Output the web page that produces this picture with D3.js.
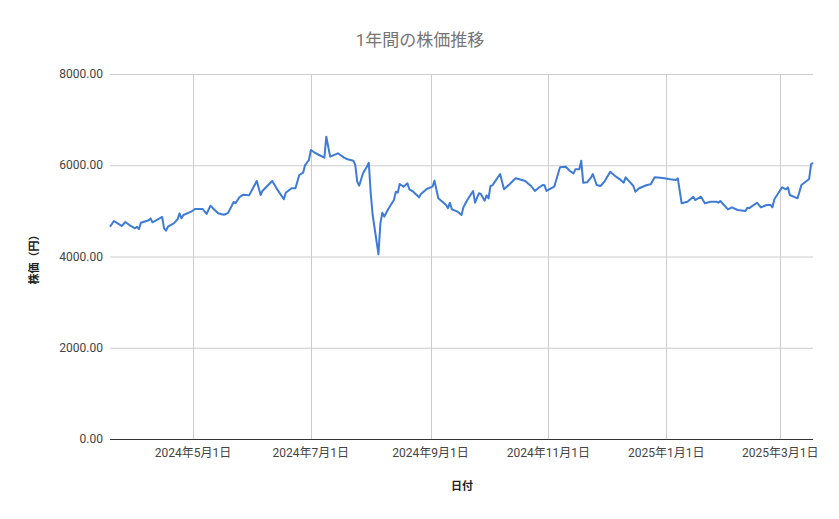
<!DOCTYPE html>
<html><head><meta charset="utf-8">
<script src="https://cdn.jsdelivr.net/npm/d3@7/dist/d3.min.js"></script>
<style>
html,body{margin:0;padding:0;background:#fff;}
text{font-family:Roboto,"Noto Sans CJK JP",sans-serif;}
</style></head>
<body>
<svg id="chart" width="839" height="519"></svg>
<script>
const dates = ["2024-03-19","2024-03-21","2024-03-23","2024-03-25","2024-03-27","2024-03-29","2024-04-01","2024-04-02","2024-04-03","2024-04-04","2024-04-08","2024-04-09","2024-04-10","2024-04-15","2024-04-16","2024-04-17","2024-04-18","2024-04-21","2024-04-23","2024-04-24","2024-04-25","2024-04-26","2024-04-30","2024-05-02","2024-05-06","2024-05-08","2024-05-10","2024-05-11","2024-05-14","2024-05-17","2024-05-19","2024-05-21","2024-05-22","2024-05-23","2024-05-25","2024-05-27","2024-05-30","2024-06-01","2024-06-03","2024-06-05","2024-06-06","2024-06-11","2024-06-13","2024-06-17","2024-06-18","2024-06-21","2024-06-23","2024-06-25","2024-06-27","2024-06-28","2024-06-30","2024-07-01","2024-07-03","2024-07-05","2024-07-08","2024-07-09","2024-07-11","2024-07-15","2024-07-18","2024-07-20","2024-07-23","2024-07-24","2024-07-25","2024-07-26","2024-07-28","2024-07-30","2024-07-31","2024-08-01","2024-08-02","2024-08-05","2024-08-06","2024-08-07","2024-08-08","2024-08-10","2024-08-13","2024-08-14","2024-08-15","2024-08-16","2024-08-18","2024-08-20","2024-08-21","2024-08-23","2024-08-26","2024-08-27","2024-08-30","2024-09-02","2024-09-03","2024-09-05","2024-09-08","2024-09-09","2024-09-10","2024-09-11","2024-09-12","2024-09-15","2024-09-17","2024-09-18","2024-09-20","2024-09-23","2024-09-24","2024-09-26","2024-09-27","2024-09-29","2024-09-30","2024-10-01","2024-10-02","2024-10-03","2024-10-07","2024-10-09","2024-10-12","2024-10-15","2024-10-17","2024-10-20","2024-10-23","2024-10-25","2024-10-27","2024-10-29","2024-10-30","2024-10-31","2024-11-04","2024-11-07","2024-11-10","2024-11-12","2024-11-14","2024-11-15","2024-11-17","2024-11-18","2024-11-19","2024-11-21","2024-11-23","2024-11-24","2024-11-26","2024-11-28","2024-11-30","2024-12-03","2024-12-04","2024-12-06","2024-12-08","2024-12-10","2024-12-11","2024-12-13","2024-12-15","2024-12-16","2024-12-18","2024-12-22","2024-12-24","2024-12-26","2024-12-29","2024-12-31","2025-01-03","2025-01-06","2025-01-07","2025-01-09","2025-01-12","2025-01-15","2025-01-16","2025-01-19","2025-01-21","2025-01-24","2025-01-27","2025-01-28","2025-01-29","2025-02-02","2025-02-04","2025-02-07","2025-02-11","2025-02-12","2025-02-13","2025-02-17","2025-02-19","2025-02-22","2025-02-24","2025-02-25","2025-02-26","2025-03-02","2025-03-04","2025-03-05","2025-03-06","2025-03-10","2025-03-11","2025-03-12","2025-03-16","2025-03-17","2025-03-18"];
const prices = [4653,4778,4727,4668,4756,4690,4618,4650,4603,4741,4793,4836,4749,4866,4618,4566,4653,4727,4815,4946,4837,4910,4982,5041,5041,4932,5114,5070,4946,4915,4950,5107,5195,5170,5298,5355,5340,5495,5655,5348,5442,5655,5510,5254,5398,5495,5495,5786,5837,6005,6115,6334,6275,6230,6166,6626,6188,6262,6174,6130,6100,6005,5640,5552,5823,5968,6056,5385,4910,4050,4727,4960,4873,5034,5238,5420,5400,5589,5530,5604,5473,5420,5297,5370,5480,5530,5662,5275,5166,5130,5060,5179,5034,4982,4910,5078,5238,5436,5179,5385,5370,5223,5340,5275,5545,5560,5808,5473,5589,5714,5692,5655,5545,5436,5508,5567,5560,5436,5530,5955,5968,5880,5823,5911,5911,6100,5618,5625,5728,5808,5567,5545,5640,5859,5820,5750,5692,5618,5736,5640,5545,5420,5495,5567,5582,5736,5728,5714,5692,5677,5714,5166,5201,5311,5238,5311,5166,5201,5201,5180,5216,5034,5078,5019,4997,5070,5060,5179,5078,5129,5130,5078,5254,5516,5473,5516,5348,5275,5420,5567,5699,6021,6056];
const yTicks = [0,2000,4000,6000,8000];
const xTickDates = ["2024-05-01","2024-07-01","2024-09-01","2024-11-01","2025-01-01","2025-03-01"];
const domainDates = ["2024-03-19","2025-03-18"];
const titleText = "1年間の株価推移";
const xLabel = "日付";
const yLabel = "株価（円）";

const parse = d3.timeParse("%Y-%m-%d");
const data = dates.map((d,i)=>({date:parse(d), v:prices[i]}));
const svg = d3.select("#chart");
const M = {left:110, right:813, top:74, bottom:439};

const x = d3.scaleTime().domain(domainDates.map(parse)).range([M.left, M.right]);
const y = d3.scaleLinear().domain([0,8000]).range([M.bottom, M.top]);

// horizontal grid
svg.append("g").selectAll("line").data(yTicks.filter(t=>t>0)).join("line")
  .attr("x1",M.left).attr("x2",M.right)
  .attr("y1",d=>y(d)+0.5).attr("y2",d=>y(d)+0.5)
  .attr("stroke","#cccccc").attr("stroke-width",1);
// vertical grid
svg.append("g").selectAll("line").data(xTickDates.map(parse)).join("line")
  .attr("x1",d=>Math.round(x(d))+0.5).attr("x2",d=>Math.round(x(d))+0.5)
  .attr("y1",M.top).attr("y2",M.bottom)
  .attr("stroke","#cccccc").attr("stroke-width",1);

// y tick labels
svg.append("g").selectAll("text").data(yTicks).join("text")
  .attr("x",103).attr("y",d=>y(d)).attr("dy","0.35em")
  .attr("text-anchor","end").attr("font-size",12).attr("fill","#444444")
  .text(d=>d3.format(".2f")(d));

// x tick labels
const fmt = d=>`${d.getFullYear()}年${d.getMonth()+1}月${d.getDate()}日`;
svg.append("g").selectAll("text").data(xTickDates.map(parse)).join("text")
  .attr("x",d=>x(d)).attr("y",457)
  .attr("text-anchor","middle").attr("font-size",12).attr("fill","#444444")
  .text(fmt);

// line
const line = d3.line().x(d=>x(d.date)).y(d=>y(d.v));
svg.append("path").datum(data).attr("d",line)
  .attr("fill","none").attr("stroke","#3d7bd6").attr("stroke-width",2)
  .attr("stroke-linejoin","round");

// baseline axis
svg.append("line").attr("x1",M.left).attr("x2",M.right)
  .attr("y1",M.bottom+0.5).attr("y2",M.bottom+0.5)
  .attr("stroke","#333333").attr("stroke-width",1);

// title
svg.append("text").attr("x",420).attr("y",46).attr("text-anchor","middle")
  .attr("font-size",17).attr("fill","#757575").text(titleText);
// x label
svg.append("text").attr("x",462).attr("y",490).attr("text-anchor","middle")
  .attr("font-size",11).attr("font-weight","bold").attr("fill","#222222").text(xLabel);
// y label
svg.append("text").attr("transform","translate(38,257) rotate(-90)").attr("text-anchor","middle")
  .attr("font-size",11).attr("font-weight","bold").attr("fill","#222222").text(yLabel);
</script>
</body></html>
